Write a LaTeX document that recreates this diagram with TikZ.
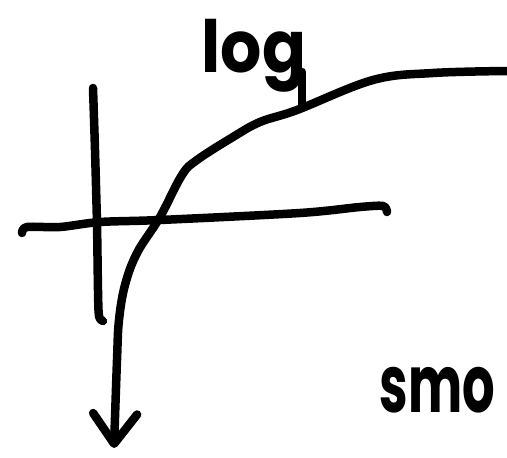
\documentclass[tikz,border=0pt]{standalone}
\usepackage{fontspec}
\setmainfont{Poppins}
\usetikzlibrary{arrows.meta}

\begin{document}
\begin{tikzpicture}[x=1pt, y=-1pt, line width=8.5pt, line cap=round, line join=round,
    pen/.style={draw=black},
    scrawl/.style={font=\fontsize{72}{72}\selectfont\bfseries, inner sep=0pt, anchor=base west}]
  \useasboundingbox (0,0) rectangle (507,458);
  \clip (0,0) rectangle (507,458);
  % axes
  \draw[pen] plot[smooth] coordinates {(93,88) (95,150) (97,225) (98,290) (99,316) (103,321)};
  \draw[pen] plot[smooth] coordinates {(22,233) (27,227) (60,227) (100,222) (160,220) (300,213) (360,207) (383,206) (387,212)};
  % log curve, going down at the left
  \draw[pen, -{Straight Barb[length=30pt, width=44pt, round]}] plot[smooth, tension=0.6] coordinates {(507,71) (433,73) (373,80) (297,110) (260,122) (233,137) (197,160) (182,175) (160,217) (137,253) (125,285) (119,320) (117,360) (114,448)};
  % labels
  \node[scrawl, xscale=0.9] (logtext) at (198,72) {log};
  \draw[pen] ([xshift=-8pt]logtext.base east) -- ++(0,36);
  \node[scrawl, font=\fontsize{80}{80}\selectfont\bfseries, xscale=0.64] (smotext) at (377,412) {smo};
\end{tikzpicture}
\end{document}
